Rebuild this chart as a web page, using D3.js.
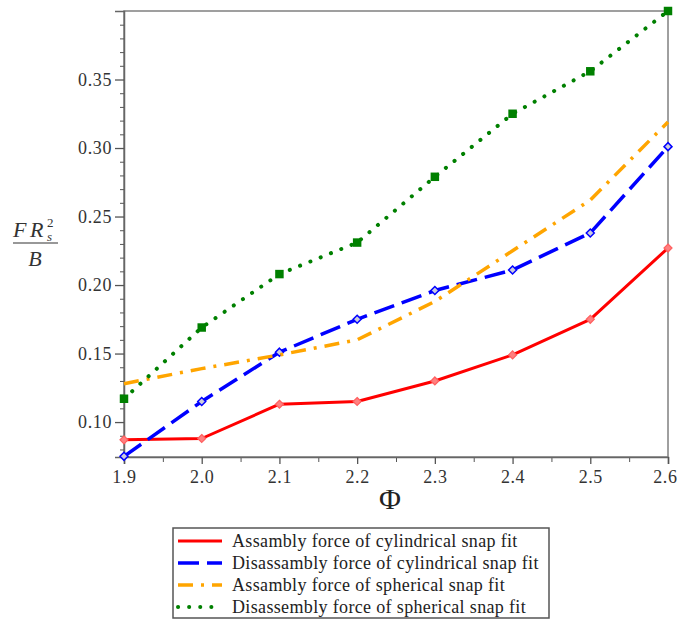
<!DOCTYPE html>
<meta charset="utf-8">
<style>
body { margin: 0; background: #fff; }
.leg { font: 18px "Liberation Serif", "Times New Roman", serif; fill: #222; letter-spacing: 0.35px; }
</style>
<svg width="677" height="621"></svg>
<script src="https://d3js.org/d3.v7.min.js"></script>
<script>

var phi = [1.9, 2.0, 2.1, 2.2, 2.3, 2.4, 2.5, 2.6];

var assCyl = [0.087, 0.088, 0.113, 0.115, 0.130, 0.149, 0.175, 0.227];
var disCyl = [0.075, 0.115, 0.151, 0.175, 0.196, 0.211, 0.238, 0.301];
var assSph = [0.128, 0.139, 0.149, 0.160, 0.188, 0.225, 0.262, 0.319];
var disSph = [0.117, 0.169, 0.208, 0.231, 0.279, 0.325, 0.356, 0.400];

var labels = [
  "Assambly force of cylindrical snap fit",
  "Disassambly force of cylindrical snap fit",
  "Assambly force of spherical snap fit",
  "Disassembly force of spherical snap fit"
];

var yMajor = [0.10, 0.15, 0.20, 0.25, 0.30, 0.35];
var xMajor = [1.9, 2.0, 2.1, 2.2, 2.3, 2.4, 2.5, 2.6];

var series = [
  { values: assCyl, color: "#ff0000", dash: null, width: 3, marker: "diamond" },
  { values: disCyl, color: "#0000ff", dash: "21,8", width: 3.5, marker: "odiamond" },
  { values: assSph, color: "#ffa500", dash: "15,8,3,8", width: 3.5, marker: null },
  { values: disSph, color: "#008000", dash: "0.1,11", width: 4, marker: "square", cap: "round" }
];

var serif = "'Liberation Serif', 'Times New Roman', serif";

var svg = d3.select("svg"),
    mLeft = 124, mRight = 668, mTop = 11, mBottom = 457;

var x = d3.scaleLinear().domain([1.9, 2.6]).range([mLeft, mRight]);
var y = d3.scaleLinear().domain([0.0745, 0.40]).range([mBottom, mTop]);

// frame
svg.append("rect")
    .attr("x", mLeft).attr("y", mTop)
    .attr("width", mRight - mLeft).attr("height", mBottom - mTop)
    .attr("fill", "none").attr("stroke", "#808080").attr("stroke-width", 1.5);

// minor ticks
var yMinor = d3.range(8, 41).map(function(d) { return d / 100; })
    .filter(function(v) { return yMajor.indexOf(v) < 0; });
var xMinor = d3.range(1.95, 2.6, 0.1);

svg.append("g")
    .attr("transform", "translate(" + mLeft + ",0)")
    .call(d3.axisLeft(y).tickValues(yMinor).tickSize(4).tickFormat(""))
    .call(function(g) { g.select(".domain").remove(); g.selectAll("line").attr("stroke", "#555"); });

svg.append("g")
    .attr("transform", "translate(0," + mBottom + ")")
    .call(d3.axisBottom(x).tickValues(xMinor).tickSize(5).tickFormat(""))
    .call(function(g) { g.select(".domain").remove(); g.selectAll("line").attr("stroke", "#555"); });

// major ticks
function styleAxis(g) {
  g.select(".domain").attr("stroke", "#666").attr("stroke-width", 1.5);
  g.selectAll("line").attr("stroke", "#555").attr("stroke-width", 1.3);
  g.selectAll("text").attr("font-family", serif).attr("font-size", 18)
      .attr("letter-spacing", 0.6).attr("fill", "#333");
}

svg.append("g")
    .attr("transform", "translate(" + mLeft + ",0)")
    .call(d3.axisLeft(y).tickValues(yMajor).tickSize(9).tickPadding(3).tickFormat(d3.format(".2f")))
    .call(styleAxis);

svg.append("g")
    .attr("transform", "translate(0," + mBottom + ")")
    .call(d3.axisBottom(x).tickValues(xMajor).tickSize(7).tickPadding(6).tickFormat(d3.format(".1f")))
    .call(styleAxis)
    .call(function(g) {
      // keep the last label inside the window
      g.selectAll(".tick text").filter(function(d) { return d === 2.6; })
          .attr("text-anchor", "end").attr("dx", 9);
    });

// lines
var line = d3.line()
    .x(function(d, i) { return x(phi[i]); })
    .y(function(d) { return y(d); });

series.forEach(function(s) {
  svg.append("path")
      .datum(s.values)
      .attr("d", line)
      .attr("fill", "none")
      .attr("stroke", s.color)
      .attr("stroke-width", s.width)
      .attr("stroke-dasharray", s.dash)
      .attr("stroke-linecap", s.cap || "butt")
      .attr("stroke-linejoin", "round");

  if (!s.marker) return;
  var m = svg.append("g").selectAll("path")
    .data(s.values)
    .enter().append("path")
      .attr("transform", function(d, i) { return "translate(" + x(phi[i]) + "," + y(d) + ")"; });
  if (s.marker === "square") {
    m.attr("d", d3.symbol(d3.symbolSquare, 72)).attr("fill", s.color);
  } else if (s.marker === "odiamond") {
    m.attr("d", "M0,-4L4,0L0,4L-4,0Z").attr("fill", "#ccd").attr("stroke", s.color).attr("stroke-width", 1.5);
  } else {
    m.attr("d", "M0,-4L4,0L0,4L-4,0Z").attr("fill", "#ff8080").attr("stroke", "#ff6060").attr("stroke-width", 1.2);
  }
});

// y label: F R_s^2 / B
var yl = svg.append("g").attr("font-family", serif).attr("fill", "#333").attr("font-style", "italic");
yl.append("text").attr("x", 13).attr("y", 237).attr("font-size", 22).text("F");
yl.append("text").attr("x", 30).attr("y", 237).attr("font-size", 22).text("R");
yl.append("text").attr("x", 47).attr("y", 227).attr("font-size", 13).attr("font-style", "normal").text("2");
yl.append("text").attr("x", 47).attr("y", 241).attr("font-size", 13).text("s");
yl.append("line").attr("x1", 13).attr("x2", 58).attr("y1", 243).attr("y2", 243)
    .attr("stroke", "#333").attr("stroke-width", 1.2);
yl.append("text").attr("x", 35).attr("y", 266).attr("font-size", 22)
    .attr("text-anchor", "middle").text("B");

// x label
svg.append("text")
    .attr("x", 390).attr("y", 509)
    .attr("text-anchor", "middle")
    .attr("font-family", serif)
    .attr("font-size", 30).attr("fill", "#222")
    .text("Φ");

// legend
var legend = svg.append("g");
legend.append("rect")
    .attr("x", 173).attr("y", 528).attr("width", 376).attr("height", 90)
    .attr("fill", "#fff").attr("stroke", "#555").attr("stroke-width", 1.5);

var row = legend.selectAll("g.row")
  .data(series)
  .enter().append("g")
    .attr("class", "row")
    .attr("transform", function(d, i) { return "translate(0," + (541 + i * 22) + ")"; });

row.append("line")
    .attr("x1", 178).attr("x2", 222).attr("y1", 0).attr("y2", 0)
    .attr("stroke", function(d) { return d.color; })
    .attr("stroke-width", function(d) { return d.width; })
    .attr("stroke-dasharray", function(d) { return d.dash; })
    .attr("stroke-linecap", function(d) { return d.cap || "butt"; });

row.append("text")
    .attr("class", "leg")
    .attr("x", 232).attr("y", 6)
    .text(function(d, i) { return labels[i]; });

</script>
